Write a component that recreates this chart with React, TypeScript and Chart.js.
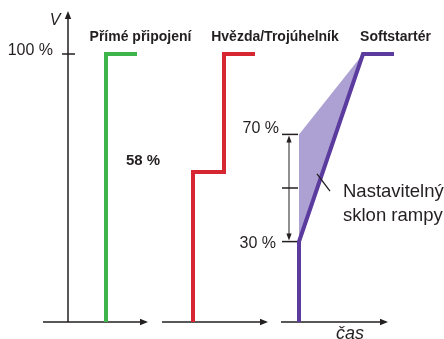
import React, { useEffect, useRef } from "react";
import { Chart, registerables } from "chart.js";

Chart.register(...registerables);

// ---- data (time in arbitrary units, voltage in %) ----
const panelTitles = ["Přímé připojení", "Hvězda/Trojúhelník", "Softstartér"];
const panelTitleT = [97.5, 232, 352.5];
const panelAxisStart = [0, 119, 238];
const panelAxisEnd = [105, 225, 345];

const directT = [63, 63, 94];
const directV = [0, 100, 100];

const starDeltaT = [150, 150, 181, 181, 212];
const starDeltaV = [0, 56, 56, 100, 100];

const softT = [256, 256, 320, 351];
const softV = [0, 30, 100, 100];

const rampMaxT = [256, 320];
const rampMaxV = [70, 100];

const vAxisT = 25;
const vAxisTop = 116;
const vTicks = [100];
const vTickLabels = ["100 %"];

const rampTickT = 247;
const rampTicks = [30, 50, 70];
const rampTickLabels = ["30 %", "", "70 %"];

const stepLabel = "58 %";
const slopeLabel = ["Nastavitelný", "sklon rampy"];
const axisLabelV = "V";
const axisLabelT = "čas";

const GREEN = "#3db54a";
const RED = "#d62631";
const PURPLE = "#5b3b9e";
const FILL = "#ada0d3";
const INK = "#231f20";
const FONT = "'Liberation Sans', Arial, Helvetica, sans-serif";

const pts = (t: number[], v: number[]) => t.map((x, i) => ({ x, y: v[i] }));

function arrowHead(ctx: CanvasRenderingContext2D, x: number, y: number, ang: number, len = 8, hw = 3.2) {
  ctx.save();
  ctx.translate(x, y);
  ctx.rotate(ang);
  ctx.beginPath();
  ctx.moveTo(0, 0);
  ctx.lineTo(-len, -hw);
  ctx.lineTo(-len, hw);
  ctx.closePath();
  ctx.fill();
  ctx.restore();
}

const diagramPlugin = {
  id: "diagram",
  beforeDatasetsDraw(chart: any) {
    const ctx: CanvasRenderingContext2D = chart.ctx;
    const xs = chart.scales.x;
    const ys = chart.scales.y;
    const X = (v: number) => xs.getPixelForValue(v);
    const Y = (v: number) => ys.getPixelForValue(v);
    ctx.save();
    // ramp band
    ctx.fillStyle = FILL;
    ctx.beginPath();
    ctx.moveTo(X(rampMaxT[0]), Y(rampMaxV[0]));
    ctx.lineTo(X(rampMaxT[1]), Y(rampMaxV[1]));
    ctx.lineTo(X(softT[1]), Y(softV[1]));
    ctx.closePath();
    ctx.fill();

    // axes
    ctx.strokeStyle = INK;
    ctx.fillStyle = INK;
    ctx.lineWidth = 1.5;
    ctx.beginPath();
    ctx.moveTo(X(vAxisT), Y(0));
    ctx.lineTo(X(vAxisT), Y(vAxisTop) + 4);
    ctx.stroke();
    arrowHead(ctx, X(vAxisT), Y(vAxisTop), -Math.PI / 2);
    vTicks.forEach((v) => {
      ctx.beginPath();
      ctx.moveTo(X(vAxisT) - 6, Y(v));
      ctx.lineTo(X(vAxisT) + 7, Y(v));
      ctx.stroke();
    });
    panelAxisStart.forEach((s, i) => {
      ctx.beginPath();
      ctx.moveTo(X(s), Y(0));
      ctx.lineTo(X(panelAxisEnd[i]) - 4, Y(0));
      ctx.stroke();
      arrowHead(ctx, X(panelAxisEnd[i]), Y(0), 0);
    });

    // ramp bracket
    ctx.lineWidth = 1.5;
    rampTicks.forEach((v) => {
      ctx.beginPath();
      ctx.moveTo(X(rampTickT) - 8, Y(v));
      ctx.lineTo(X(rampTickT) + 8, Y(v));
      ctx.stroke();
    });
    ctx.lineWidth = 1;
    const top = Y(rampTicks[2]);
    const bot = Y(rampTicks[0]);
    const bx = X(rampTickT) - 1;
    ctx.beginPath();
    ctx.moveTo(bx, top + 6);
    ctx.lineTo(bx, bot - 6);
    ctx.stroke();
    arrowHead(ctx, bx, top + 1, -Math.PI / 2, 7, 2.6);
    arrowHead(ctx, bx, bot - 1, Math.PI / 2, 7, 2.6);
    ctx.restore();
  },
  afterDatasetsDraw(chart: any) {
    const ctx: CanvasRenderingContext2D = chart.ctx;
    const xs = chart.scales.x;
    const ys = chart.scales.y;
    const X = (v: number) => xs.getPixelForValue(v);
    const Y = (v: number) => ys.getPixelForValue(v);
    ctx.save();
    ctx.fillStyle = INK;
    ctx.strokeStyle = INK;

    // pointer line to slope
    ctx.lineWidth = 1.3;
    ctx.beginPath();
    ctx.moveTo(X(274), Y(55.3));
    ctx.lineTo(X(287), Y(48.8));
    ctx.stroke();

    // panel titles
    ctx.font = `bold 14px ${FONT}`;
    ctx.textAlign = "center";
    ctx.textBaseline = "alphabetic";
    panelTitles.forEach((t, i) => ctx.fillText(t, X(panelTitleT[i]), Y(104.9)));

    // tick labels
    ctx.font = `16px ${FONT}`;
    ctx.textAlign = "right";
    ctx.textBaseline = "middle";
    vTicks.forEach((v, i) => ctx.fillText(vTickLabels[i], X(vAxisT) - 15, Y(v) - 3));
    rampTicks.forEach((v, i) => {
      if (!rampTickLabels[i]) return;
      const dy = v > 50 ? -6 : 2;
      ctx.fillText(rampTickLabels[i], X(rampTickT) - 14 + (v > 50 ? 3 : 0), Y(v) + dy);
    });

    // step label
    ctx.font = `bold 15px ${FONT}`;
    ctx.textAlign = "left";
    ctx.fillText(stepLabel, X(83), Y(60.3));

    // slope label
    ctx.font = `18.5px ${FONT}`;
    ctx.textBaseline = "alphabetic";
    ctx.fillText(slopeLabel[0], X(300), 197);
    ctx.fillText(slopeLabel[1], X(300), 221);

    // axis labels
    ctx.font = `italic 16px ${FONT}`;
    ctx.textAlign = "center";
    ctx.fillText(axisLabelV, X(vAxisT) - 13, Y(vAxisTop) + 14);
    ctx.font = `italic 18px ${FONT}`;
    ctx.textAlign = "left";
    ctx.fillText(axisLabelT, X(293), Y(0) + 17);
    ctx.restore();
  },
};

export default function App() {
  const ref = useRef<HTMLCanvasElement | null>(null);
  useEffect(() => {
    if (!ref.current) return;
    const line = (data: { x: number; y: number }[], color: string) => ({
      data,
      borderColor: color,
      backgroundColor: color,
      borderWidth: 4,
      pointRadius: 0,
      fill: false,
      tension: 0,
      clip: false as any,
      borderJoinStyle: "miter" as const,
      borderCapStyle: "butt" as const,
    });
    const chart = new Chart(ref.current, {
      type: "line",
      data: {
        datasets: [
          line(pts(directT, directV), GREEN),
          line(pts(starDeltaT, starDeltaV), RED),
          line(pts(softT, softV), PURPLE),
        ],
      },
      options: {
        responsive: false,
        animation: false,
        events: [],
        layout: { padding: { left: 43, right: 50, top: 54, bottom: 17 } },
        scales: {
          x: { type: "linear", min: 0, max: 351, display: false },
          y: { type: "linear", min: 0, max: 100, display: false },
        },
        plugins: { legend: { display: false }, tooltip: { enabled: false } },
      },
      plugins: [diagramPlugin],
    });
    return () => chart.destroy();
  }, []);
  return (
    <div style={{ position: "fixed", left: 0, top: 0, width: 444, height: 339, background: "#fff" }}>
      <canvas ref={ref} width={444} height={339} style={{ display: "block" }} />
    </div>
  );
}
